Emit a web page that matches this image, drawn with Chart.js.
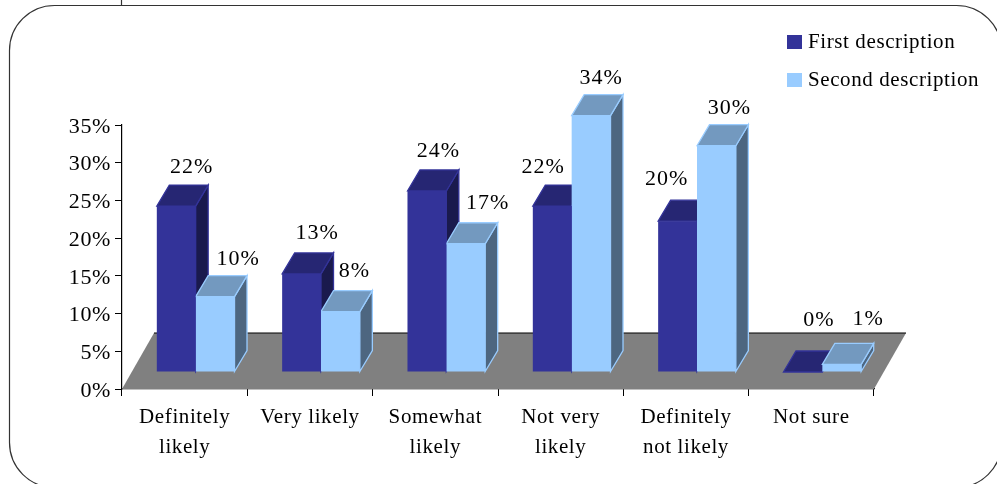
<!DOCTYPE html>
<html>
<head>
<meta charset="utf-8">
<style>html,body{margin:0;padding:0;background:#fff;overflow:hidden}canvas{display:block}</style>
<script src="https://cdn.jsdelivr.net/npm/chart.js@4"></script>
</head>
<body>
<canvas id="c" width="997" height="484"></canvas>
<script>
const categories = [["Definitely","likely"],"Very likely",["Somewhat","likely"],["Not very","likely"],["Definitely","not likely"],"Not sure"];
const firstDescription = [22,13,24,22,20,0];
const secondDescription = [10,8,17,34,30,1];
const seriesNames = ["First description","Second description"];
const yTicksMax = 35;
const yTickStep = 5;

const FONT = '"Liberation Serif","Times New Roman",serif';
const FS = 21;
const FS_NUM = 22;
const PLANE = {x:11, y:-17};     // bars stand mid-way on the floor
const DEPTH = {x:12.5, y:-21};   // depth of each bar
const FLOOR = {x:32, y:-56};     // depth of the floor
const faces = [
  {front:'#333399', top:'#262673', side:'#1a1a4d', edge:'#333399'},
  {front:'#99CCFF', top:'#7399BF', side:'#4D6680', edge:'#99CCFF'}
];
// label nudges [dx, dy] relative to the bar's front centre, per series
const nudges = [
  [[15.5,0],[15.5,-2],[11.5,-1],[-9,0],[-11,-3],[16,-13]],
  [[23,1],[14,-2],[22,-2],[10,1],[13,1.5],[26.5,-6]]
];

function poly(ctx, pts, fill, stroke){
  ctx.beginPath();
  pts.forEach((p,i)=> i?ctx.lineTo(p[0],p[1]):ctx.moveTo(p[0],p[1]));
  ctx.closePath();
  ctx.fillStyle = fill; ctx.fill();
  if(stroke){ctx.strokeStyle = stroke; ctx.lineWidth = 1.3; ctx.stroke();}
}

const scene = {
  id:'scene',
  beforeDraw(chart){
    const ctx = chart.ctx;
    ctx.letterSpacing = '0.6px';
    chart.scales.y.getLabelItems().forEach(it=>{ if(!it._shifted){it.textOffset += 2; it._shifted = true;} });
    // frame
    ctx.save();
    ctx.strokeStyle = '#333'; ctx.lineWidth = 1.2;
    ctx.beginPath();
    ctx.roundRect(9.5,5.5,992,482,45);
    ctx.moveTo(121.5,0); ctx.lineTo(121.5,5);
    ctx.stroke();
    ctx.restore();
  },
  beforeDatasetsDraw(chart){
    const ctx = chart.ctx, a = chart.chartArea;
    ctx.save();
    poly(ctx,[[a.left,a.bottom],[a.right,a.bottom],[a.right+FLOOR.x,a.bottom+FLOOR.y],[a.left+FLOOR.x,a.bottom+FLOOR.y]],'#808080');
    ctx.strokeStyle = '#000'; ctx.lineWidth = 1.2;
    ctx.beginPath();
    ctx.moveTo(a.left+FLOOR.x,a.bottom+FLOOR.y); ctx.lineTo(a.right+FLOOR.x,a.bottom+FLOOR.y);
    ctx.stroke();
    // side and top faces of every bar, back series first
    ctx.translate(PLANE.x,PLANE.y);
    chart.data.datasets.forEach((ds,i)=>{
      const f = faces[i];
      chart.getDatasetMeta(i).data.forEach(b=>{
        const l=b.x-b.width/2, r=b.x+b.width/2, t=b.y, bt=b.base, dx=DEPTH.x, dy=DEPTH.y;
        poly(ctx,[[r,t],[r+dx,t+dy],[r+dx,bt+dy],[r,bt]],f.side,f.edge);
        poly(ctx,[[l,t],[l+dx,t+dy],[r+dx,t+dy],[r,t]],f.top,f.edge);
      });
    });
    ctx.restore();
  },
  beforeDatasetDraw(chart){
    chart.ctx.save();
    chart.ctx.translate(PLANE.x,PLANE.y);
  },
  afterDatasetDraw(chart){
    chart.ctx.restore();
  },
  afterDatasetsDraw(chart){
    const ctx = chart.ctx;
    ctx.save();
    ctx.font = FS_NUM+'px '+FONT;
    ctx.letterSpacing = '1px';
    ctx.fillStyle = '#000';
    ctx.textAlign = 'center';
    ctx.textBaseline = 'alphabetic';
    chart.data.datasets.forEach((ds,i)=>{
      chart.getDatasetMeta(i).data.forEach((b,j)=>{
        const n = nudges[i][j];
        ctx.fillText(ds.data[j]+'%', b.x+PLANE.x+n[0], b.y+PLANE.y-33+n[1]);
      });
    });
    // legend
    ctx.font = FS+'px '+FONT;
    ctx.letterSpacing = '0.6px';
    ctx.textAlign = 'left';
    chart.data.datasets.forEach((ds,i)=>{
      const y = 35+38*i;
      ctx.fillStyle = ds.backgroundColor;
      ctx.fillRect(787,y,15,14);
      ctx.fillStyle = '#000';
      ctx.fillText(ds.label,808,y+13);
    });
    ctx.restore();
  }
};

new Chart(document.getElementById('c'),{
  type:'bar',
  plugins:[scene],
  data:{
    labels:categories,
    datasets:[
      {label:seriesNames[0],data:firstDescription,backgroundColor:faces[0].front,clip:false,
       categoryPercentage:0.62,barPercentage:1,borderWidth:0},
      {label:seriesNames[1],data:secondDescription,backgroundColor:faces[1].front,clip:false,
       categoryPercentage:0.62,barPercentage:1,borderWidth:0}
    ]
  },
  options:{
    responsive:false,
    animation:false,
    layout:{padding:{left:0,right:123,top:125,bottom:0}},
    plugins:{legend:{display:false},tooltip:{enabled:false},title:{display:false}},
    scales:{
      x:{
        afterFit(s){s.height=95;},
        grid:{drawOnChartArea:false,drawTicks:true,tickLength:7,tickColor:'#000',tickWidth:1},
        border:{display:true,color:'#000',width:1.2},
        ticks:{color:'#000',autoSkip:false,maxRotation:0,minRotation:0,padding:7,
               font:{family:FONT,size:FS,lineHeight:1.4}}
      },
      y:{
        min:0,max:yTicksMax,
        afterFit(s){s.width=122;},
        grid:{drawOnChartArea:false,drawTicks:true,tickLength:7,tickColor:'#000',tickWidth:1},
        border:{display:true,color:'#000',width:1.2},
        ticks:{color:'#000',stepSize:yTickStep,padding:4,callback:v=>v+'%',
               font:{family:FONT,size:FS_NUM}}
      }
    }
  }
});
</script>
</body>
</html>
